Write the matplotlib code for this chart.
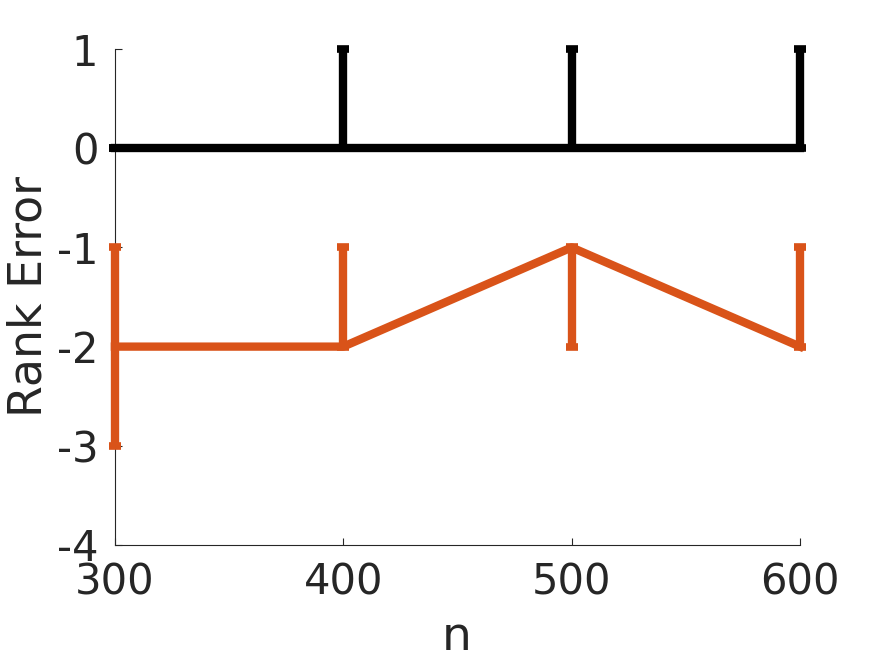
import matplotlib
matplotlib.use("Agg")
import matplotlib.pyplot as plt

n = [300, 400, 500, 600]

# black series: mean and error extents
black_y = [0, 0, 0, 0]
black_lo = [0, 0, 0, 0]
black_hi = [0, 1, 1, 1]

# orange series
orange_y = [-2, -2, -1, -2]
orange_lo = [1, 0, 1, 0]
orange_hi = [1, 1, 0, 1]

xticks = [300, 400, 500, 600]
yticks = [-4, -3, -2, -1, 0, 1]

txt = "#262626"
plt.rcParams['font.family'] = ['DejaVu Sans']

fig = plt.figure(figsize=(8.84, 6.63), dpi=100)
ax = fig.add_axes([0.130, 0.178, 0.775, 0.748])

ax.errorbar(n, black_y, yerr=[black_lo, black_hi], color='black', lw=6,
            elinewidth=6, capsize=4.5, capthick=5.5, clip_on=False, zorder=3)
ax.errorbar(n, orange_y, yerr=[orange_lo, orange_hi], color='#D95319', lw=6,
            elinewidth=6, capsize=4.5, capthick=5.5, clip_on=False, zorder=3)

ax.set_xlim(300, 600)
ax.set_ylim(-4, 1)
ax.set_xticks(xticks)
ax.set_yticks(yticks)
ax.set_yticklabels([str(v) for v in yticks])

for s in ['top', 'right']:
    ax.spines[s].set_visible(False)
for s in ['left', 'bottom']:
    ax.spines[s].set_color(txt)
    ax.spines[s].set_linewidth(0.8)

ax.tick_params(direction='in', length=5, width=0.8, color=txt,
               labelsize=30, labelcolor=txt)
ax.tick_params(axis='x', pad=12)
ax.tick_params(axis='y', pad=12)

ax.set_xlabel("n", fontsize=34, color=txt, va='center')
ax.set_ylabel("Rank Error", fontsize=33, color=txt, va='center')
ax.xaxis.set_label_coords(0.499, -0.1875)
ax.yaxis.set_label_coords(-0.126, 0.502)

fig.savefig("out.png", dpi=100)
